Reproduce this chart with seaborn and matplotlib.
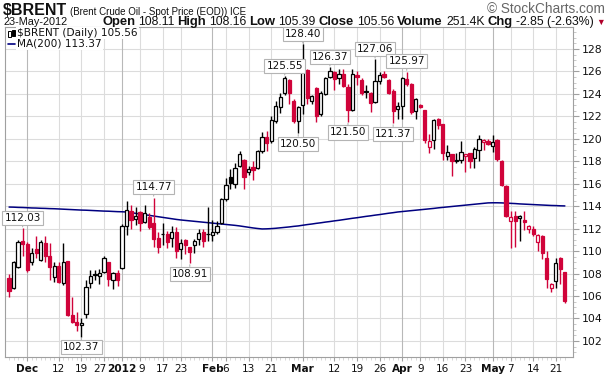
import numpy as np
import pandas as pd
import matplotlib
matplotlib.use("Agg")
import matplotlib.pyplot as plt
from matplotlib.transforms import IdentityTransform, ScaledTranslation
from matplotlib.patches import Rectangle
import seaborn as sns

# ---------------- data ----------------
opens = [107.63, 106.73, 108.56, 110.90, 110.60, 109.06, 110.19, 109.18, 110.68, 109.60,
         107.68, 108.69, 107.14, 109.10, 104.28, 103.65, 103.40, 104.41, 107.19, 107.90,
         107.82, 108.17, 108.99, 107.41, 108.09, 108.50, 112.20, 113.59, 112.85, 113.50,
         112.60, 113.00, 112.50, 111.20, 111.50, 111.50, 111.20, 111.70, 110.20, 111.00,
         110.40, 110.50, 111.10, 111.70, 111.50, 111.40, 111.70, 112.50, 114.60, 116.60,
         116.00, 117.60, 118.10, 117.05, 117.50, 117.40, 118.90, 120.20, 119.80, 121.60,
         122.80, 124.10, 125.20, 123.40, 121.60, 123.00, 126.10, 123.40, 124.50, 122.20,
         124.00, 125.50, 125.90, 125.40, 125.75, 124.60, 122.60, 125.70, 125.25, 124.15,
         124.10, 123.30, 125.10, 125.80, 125.20, 124.25, 122.65, 122.90, 125.30, 124.90,
         122.50, 123.00, 122.60, 119.30, 119.90, 121.75, 121.30, 118.50, 118.60, 118.05,
         118.10, 118.45, 118.75, 118.30, 119.00, 119.70, 119.80, 119.35, 119.85, 118.00,
         115.80, 112.70, 113.10, 112.95, 112.80, 112.00, 112.00, 110.80, 111.30, 109.35,
         106.70, 107.30, 109.35, 108.11]
highs = [107.96, 109.10, 111.01, 112.03, 110.80, 110.30, 111.30, 110.95, 111.36, 110.68,
         109.05, 109.05, 110.68, 109.15, 105.90, 104.60, 104.00, 107.41, 108.28, 108.28,
         108.40, 109.59, 109.00, 108.17, 108.28, 112.40, 114.49, 114.10, 113.90, 113.60,
         114.10, 113.40, 114.77, 111.70, 112.50, 111.80, 112.20, 112.10, 111.10, 111.10,
         110.40, 111.10, 112.00, 112.00, 113.90, 112.80, 112.70, 114.70, 116.50, 117.30,
         117.80, 118.90, 118.20, 117.60, 118.00, 119.00, 120.60, 120.70, 122.00, 123.40,
         124.10, 125.55, 125.30, 123.50, 122.90, 128.40, 126.20, 123.90, 124.60, 124.25,
         125.50, 126.37, 126.00, 126.20, 126.20, 124.90, 126.20, 126.00, 125.40, 124.80,
         124.15, 127.06, 125.90, 126.00, 125.30, 124.40, 123.30, 125.50, 125.97, 124.95,
         123.60, 123.10, 122.60, 120.40, 121.80, 121.85, 121.30, 119.40, 118.60, 118.70,
         119.80, 118.65, 118.75, 119.30, 120.30, 120.00, 120.00, 120.30, 120.00, 118.10,
         115.90, 113.60, 113.60, 113.20, 113.60, 112.30, 112.20, 111.50, 111.40, 110.00,
         107.20, 109.40, 109.50, 108.16]
lows = [105.91, 106.60, 108.50, 109.60, 108.10, 108.80, 109.40, 109.10, 109.00, 107.40,
        107.27, 107.14, 107.00, 104.20, 103.60, 102.90, 102.37, 104.00, 106.73, 107.40,
        107.10, 108.09, 106.87, 106.59, 106.87, 108.40, 111.39, 111.95, 112.30, 111.80,
        112.50, 111.95, 110.40, 109.80, 110.50, 110.30, 110.40, 109.40, 109.30, 109.70,
        108.91, 109.80, 110.50, 110.40, 110.90, 110.90, 111.50, 112.40, 114.50, 115.50,
        115.60, 117.50, 115.50, 116.80, 116.30, 117.30, 118.70, 118.90, 119.60, 121.40,
        122.30, 123.90, 123.10, 121.40, 120.50, 122.20, 123.10, 123.10, 121.50, 122.00,
        123.90, 125.40, 124.30, 124.90, 124.60, 121.50, 122.50, 124.80, 123.90, 123.60,
        122.40, 123.15, 124.90, 125.40, 124.00, 121.37, 121.75, 121.75, 124.70, 122.20,
        121.80, 122.70, 119.60, 118.70, 119.10, 120.90, 118.10, 118.10, 116.65, 117.80,
        117.80, 117.00, 117.40, 117.40, 118.00, 119.00, 119.40, 118.80, 118.00, 115.80,
        113.00, 110.30, 110.40, 110.90, 111.90, 111.60, 111.30, 110.00, 109.30, 106.70,
        106.40, 106.70, 107.10, 105.39]
closes = [106.46, 108.99, 110.82, 110.60, 108.30, 109.86, 109.80, 110.82, 109.59, 108.56,
          108.69, 107.27, 109.05, 104.28, 103.65, 103.38, 103.60, 106.81, 107.74, 107.97,
          108.05, 109.37, 107.55, 108.09, 107.41, 112.20, 113.70, 112.74, 113.14, 112.50,
          113.40, 112.10, 111.10, 110.40, 111.55, 110.80, 111.70, 110.00, 110.70, 110.50,
          109.90, 110.90, 111.60, 110.90, 111.55, 111.70, 112.20, 114.60, 115.90, 116.10,
          117.40, 118.60, 116.60, 117.35, 117.25, 118.90, 120.20, 119.60, 121.70, 122.90,
          123.70, 125.45, 124.10, 121.60, 122.80, 126.20, 123.60, 123.80, 122.00, 124.10,
          125.40, 126.00, 125.30, 125.75, 124.70, 122.60, 125.80, 125.50, 124.10, 124.20,
          123.15, 125.10, 125.65, 125.50, 124.10, 122.50, 122.90, 125.40, 124.90, 122.40,
          123.50, 122.80, 119.90, 119.80, 121.65, 121.20, 118.70, 118.85, 118.00, 118.10,
          118.80, 118.60, 118.00, 119.10, 119.95, 119.85, 119.50, 119.70, 118.20, 115.90,
          113.10, 113.05, 112.70, 113.15, 112.60, 112.20, 111.50, 111.40, 109.80, 107.50,
          107.10, 108.90, 108.41, 105.56]
ma200 = [113.92, 113.91, 113.89, 113.88, 113.86, 113.84, 113.83, 113.81, 113.80, 113.78,
         113.77, 113.75, 113.73, 113.71, 113.69, 113.67, 113.65, 113.64, 113.62, 113.60,
         113.58, 113.56, 113.55, 113.53, 113.51, 113.50, 113.48, 113.42, 113.36, 113.30,
         113.24, 113.18, 113.12, 113.06, 113.00, 112.94, 112.88, 112.82, 112.77, 112.73,
         112.69, 112.65, 112.61, 112.57, 112.53, 112.49, 112.45, 112.41, 112.37, 112.33,
         112.29, 112.24, 112.18, 112.12, 112.06, 112.01, 111.97, 111.98, 112.00, 112.03,
         112.07, 112.11, 112.15, 112.20, 112.24, 112.30, 112.36, 112.41, 112.47, 112.52,
         112.58, 112.63, 112.69, 112.74, 112.80, 112.86, 112.92, 112.97, 113.03, 113.09,
         113.14, 113.20, 113.25, 113.31, 113.37, 113.42, 113.48, 113.52, 113.56, 113.60,
         113.64, 113.68, 113.72, 113.76, 113.80, 113.85, 113.89, 113.93, 113.97, 114.01,
         114.05, 114.09, 114.13, 114.17, 114.21, 114.25, 114.29, 114.30, 114.30, 114.29,
         114.27, 114.25, 114.23, 114.20, 114.18, 114.16, 114.14, 114.12, 114.10, 114.08,
         114.06, 114.05, 114.03, 114.02]
close_before_first = 107.20

holidays = ["2011-11-24", "2011-12-26", "2012-01-02", "2012-01-16", "2012-02-20", "2012-04-06"]
tick_dates = ["2011-12-01", "2011-12-12", "2011-12-19", "2011-12-27", "2012-01-03", "2012-01-09",
              "2012-01-17", "2012-01-23", "2012-02-01", "2012-02-06", "2012-02-13", "2012-02-21",
              "2012-03-01", "2012-03-12", "2012-03-19", "2012-03-26", "2012-04-02", "2012-04-09",
              "2012-04-16", "2012-04-23", "2012-05-01", "2012-05-07", "2012-05-14", "2012-05-21"]
tick_labels = ["Dec", "12", "19", "27", "2012", "9", "17", "23", "Feb", "6", "13", "21",
               "Mar", "12", "19", "26", "Apr", "9", "16", "23", "May", "7", "14", "21"]
major_labels = {"Dec", "2012", "Feb", "Mar", "Apr", "May"}

annotations = [  # (date, value, kind)
    ("2011-11-30", 112.03, "high"), ("2011-12-19", 102.37, "low"),
    ("2012-01-12", 114.77, "high"), ("2012-01-25", 108.91, "low"),
    ("2012-02-24", 125.55, "high"), ("2012-02-29", 120.50, "low"),
    ("2012-03-01", 128.40, "high"), ("2012-03-09", 126.37, "high"),
    ("2012-03-15", 121.50, "low"), ("2012-03-23", 127.06, "high"),
    ("2012-03-29", 121.37, "low"), ("2012-04-03", 125.97, "high"),
]

# ---------------- frame ----------------
dates = pd.date_range("2011-11-25", "2012-05-23",
                      freq=pd.offsets.CustomBusinessDay(holidays=holidays))
df = pd.DataFrame({"date": dates, "open": opens, "high": highs, "low": lows,
                   "close": closes, "ma": ma200})
df["x"] = np.arange(len(df))
pos = {d: i for i, d in enumerate(df["date"])}

prev = np.r_[close_before_first, df["close"].values[:-1]]
RED = "#d0033a"
BLACK = "#000000"
df["color"] = np.where(df["close"].values >= prev, BLACK, RED)
df["hollow"] = df["close"] > df["open"]

sns.set_theme(style="white")
plt.rcParams["font.family"] = ["DejaVu Sans"]

W, H = 611, 375
fig = plt.figure(figsize=(W / 100, H / 100), dpi=100)
fig.patch.set_facecolor("white")
ax_l, ax_r, ax_t, ax_b = 5, 573, 27, 357
ax = fig.add_axes([ax_l / W, 1 - ax_b / H, (ax_r - ax_l) / W, (ax_b - ax_t) / H])
ax.set_facecolor("white")

xmin, xmax = -0.9, 124.8
ymin, ymax = 100.57, 129.95
ax.set_xlim(xmin, xmax)
ax.set_ylim(ymin, ymax)

# grid
yt = np.arange(102, 129, 2)
for v in yt:
    ax.axhline(v, color="#dcdcdc", lw=0.8, zorder=0)
tick_pos = [pos[pd.Timestamp(d)] for d in tick_dates]
for p_, lab in zip(tick_pos, tick_labels):
    ax.axvline(p_, color="#b8b8b8" if lab in major_labels else "#dcdcdc", lw=0.8, zorder=0)

# MA line
sns.lineplot(data=df, x="x", y="ma", ax=ax, color="#000080", lw=1.1, zorder=2)

# candles
ax.vlines(df["x"], df["low"], df["high"], colors=df["color"], lw=1.0, zorder=3)
body_lo = np.minimum(df["open"], df["close"])
body_h = np.maximum(np.abs(df["close"] - df["open"]), 0.06)
face = np.where(df["hollow"], "white", df["color"])
ax.bar(df["x"], body_h, bottom=body_lo, width=0.72, color=face,
       edgecolor=df["color"], linewidth=0.9, zorder=4)

# annotations
for d, v, kind in annotations:
    xi = pos[pd.Timestamp(d)]
    off = 4 if kind == "high" else -4
    ax.annotate(f"{v:.2f}", xy=(xi, v), xytext=(0, off), textcoords="offset points",
                ha="center", va="bottom" if kind == "high" else "top",
                fontsize=7.5, color="#111111", zorder=6,
                bbox=dict(boxstyle="square,pad=0.2", fc="white", ec="#b4b4b4", lw=0.8),
                arrowprops=dict(arrowstyle="-", color="#b4b4b4", lw=0.8,
                                shrinkA=0, shrinkB=1))

# axes styling
for s in ax.spines.values():
    s.set_color("#a0a0a0")
    s.set_linewidth(0.8)
ax.yaxis.tick_right()
ax.set_yticks(yt)
ax.set_yticklabels([str(v) for v in yt])
ax.set_yticks(np.arange(101, 130, 0.5), minor=True)
ax.tick_params(axis="y", which="major", right=True, length=4, width=0.8, color="#a0a0a0",
               labelsize=7.8, pad=2, labelcolor="#111111")
ax.tick_params(axis="y", which="minor", right=True, length=2, width=0.6, color="#c0c0c0")
ax.set_xticks(tick_pos)
ax.set_xticklabels(tick_labels)
ax.set_xticks(df["x"], minor=True)
ax.tick_params(axis="x", which="major", bottom=True, length=3, width=0.8, color="#a0a0a0",
               labelsize=7.6, pad=2, labelcolor="#111111")
ax.tick_params(axis="x", which="minor", bottom=True, length=2, width=0.5, color="#c8c8c8")
for t in ax.get_xticklabels():
    if t.get_text() in major_labels:
        t.set_fontweight("bold")
# "27", "2012" and "9" sit almost touching; nudge them apart by a couple of pixels
xlabs = ax.get_xticklabels()
for k, dx in ((3, -4.0), (4, 0.0), (5, 2.0)):
    xlabs[k].set_transform(xlabs[k].get_transform()
                           + ScaledTranslation(dx / 100, 0, fig.dpi_scale_trans))
ax.set_xlabel("")
ax.set_ylabel("")

# ---------------- header texts (pixel placement) ----------------
fig.canvas.draw()
renderer = fig.canvas.get_renderer()
T = IdentityTransform()
HF = ["Liberation Sans", "DejaVu Sans"]


def chain(pieces, x0, baseline, target_w, align="left", gap=3.0):
    objs = [fig.text(0, H - baseline, t, transform=T, va="baseline", ha="left",
                     family=HF, **kw) for t, kw in pieces]
    for _ in range(3):
        widths = [o.get_window_extent(renderer).width for o in objs]
        total = sum(widths) + gap * (len(objs) - 1)
        k = target_w / total
        for o in objs:
            o.set_fontsize(o.get_fontsize() * k)
    widths = [o.get_window_extent(renderer).width for o in objs]
    total = sum(widths) + gap * (len(objs) - 1)
    x = x0 if align == "left" else x0 - total
    for o, w in zip(objs, widths):
        o.set_x(x)
        x += w + gap
    return objs


chain([("$BRENT", dict(fontsize=12, fontweight="bold", color="#111111"))], 3, 15, 64)
chain([("(Brent Crude Oil - Spot Price (EOD)) ICE", dict(fontsize=9, color="#111111"))],
      70, 15, 176)
chain([("\u00a9 StockCharts.com", dict(fontsize=9, color="#666666"))], 605, 13, 117,
      align="right")
chain([("23-May-2012", dict(fontsize=9, color="#111111"))], 3, 25, 64)
b = dict(fontsize=9.6, fontweight="bold", color="#111111")
n = dict(fontsize=9, color="#111111")
chain([("Open", b), ("108.11", n), ("High", b), ("108.16", n), ("Low", b),
       ("105.39", n), ("Close", b), ("105.56", n), ("Volume", b), ("251.4K", n),
       ("Chg", b), ("-2.85 (-2.63%)", n), ("\u25bc", dict(fontsize=6.5, color="#b0002a"))],
      605, 25, 503, align="right", gap=3.0)

# in-plot legend
fig.text(17, H - 36, "$BRENT (Daily) 105.56", transform=T, ha="left", va="baseline",
         fontsize=7.6, color="#111111", zorder=10,
         bbox=dict(boxstyle="square,pad=0.1", fc="white", ec="none"))
fig.text(17, H - 47, "MA(200) 113.37", transform=T, ha="left", va="baseline",
         fontsize=7.6, color="#111111", zorder=10,
         bbox=dict(boxstyle="square,pad=0.1", fc="white", ec="none"))
fig.add_artist(plt.Line2D([8, 15], [H - 44, H - 44], transform=T, color="#000080", lw=1.2))
fig.add_artist(Rectangle((8, H - 37), 2.5, 6, transform=T, fc="white", ec="black", lw=0.7))
fig.add_artist(Rectangle((12, H - 36), 2.5, 6, transform=T, fc="black", ec="black", lw=0.7))

fig.savefig("out.png", dpi=100, facecolor="white")
